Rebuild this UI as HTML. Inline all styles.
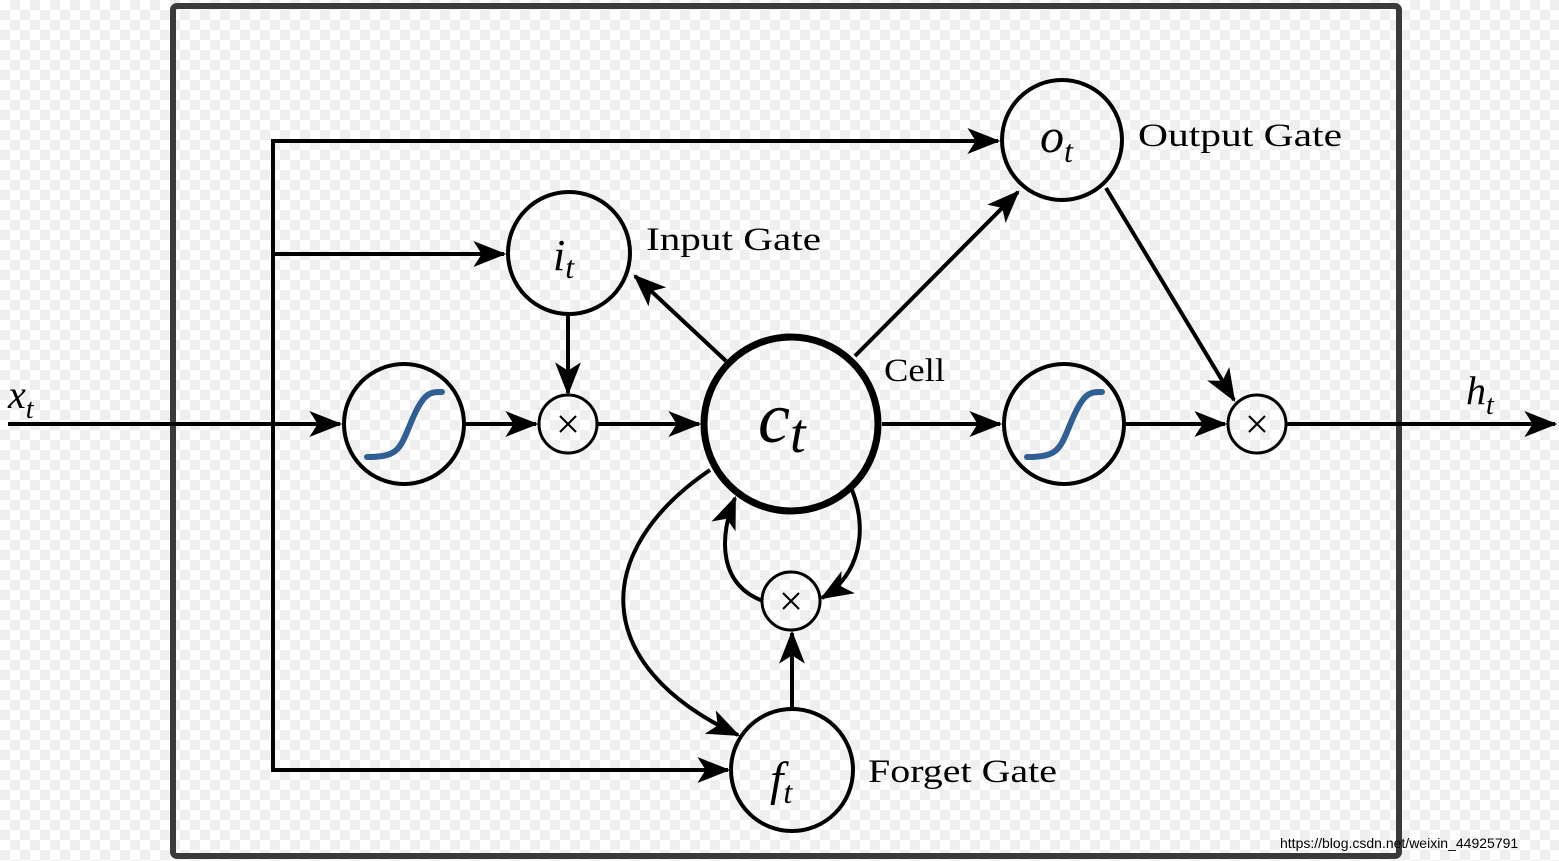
<!DOCTYPE html>
<html><head><meta charset="utf-8"><style>
html,body{margin:0;padding:0;}
body{width:1559px;height:861px;overflow:hidden;background-color:#fff;
background-image:linear-gradient(45deg,#efefef 25%,transparent 25%,transparent 75%,#efefef 75%),linear-gradient(45deg,#efefef 25%,transparent 25%,transparent 75%,#efefef 75%);
background-size:20px 20px;background-position:0 0,10px 10px;}
svg{position:absolute;left:0;top:0;}
text{font-family:"Liberation Serif",serif;fill:#000;}
</style></head><body>
<svg width="1559" height="861" viewBox="0 0 1559 861">
<defs>
<marker id="a" markerUnits="userSpaceOnUse" markerWidth="40" markerHeight="40" viewBox="-30 -15 34 30" refX="0" refY="0" orient="auto">
<path d="M2,0 L-26,-11 L-19,0 L-26,11 z" fill="#000"/>
</marker>
</defs>
<rect x="173" y="6" width="1226" height="850" rx="4" fill="none" stroke="#3a3a3a" stroke-width="6"/>
<g stroke="#000" stroke-width="4" fill="none">
<line x1="8" y1="424" x2="340" y2="424" marker-end="url(#a)"/>
<line x1="273" y1="139" x2="273" y2="772"/>
<line x1="271" y1="141" x2="998" y2="141" marker-end="url(#a)"/>
<line x1="271" y1="254" x2="504" y2="254" marker-end="url(#a)"/>
<line x1="271" y1="770" x2="728" y2="770" marker-end="url(#a)"/>
<line x1="466" y1="424" x2="536" y2="424" marker-end="url(#a)"/>
<line x1="598" y1="424" x2="699" y2="424" marker-end="url(#a)"/>
<line x1="882" y1="424" x2="1000" y2="424" marker-end="url(#a)"/>
<line x1="1126" y1="424" x2="1225" y2="424" marker-end="url(#a)"/>
<line x1="1287" y1="424" x2="1555" y2="424" marker-end="url(#a)"/>
<line x1="568" y1="315" x2="568" y2="393" marker-end="url(#a)"/>
<line x1="726" y1="361" x2="635" y2="276" marker-end="url(#a)"/>
<line x1="855" y1="356" x2="1018" y2="192" marker-end="url(#a)"/>
<line x1="1106" y1="188" x2="1234" y2="400" marker-end="url(#a)"/>
<line x1="792" y1="708" x2="792" y2="633" marker-end="url(#a)"/>
<path d="M710,470 C592,550 588,665 738,735" marker-end="url(#a)"/>
<path d="M763,601 C720,585 718,540 735,498" marker-end="url(#a)"/>
<path d="M852,490 C868,530 860,575 822,598" marker-end="url(#a)"/>
<circle cx="404" cy="424" r="60"/>
<circle cx="1064" cy="424" r="60"/>
<circle cx="569" cy="253" r="61"/>
<circle cx="1062" cy="140" r="60"/>
<circle cx="792" cy="770" r="61"/>
<circle cx="568" cy="424" r="29" stroke-width="3"/>
<circle cx="1257" cy="424" r="29" stroke-width="3"/>
<circle cx="791" cy="601" r="29" stroke-width="3"/>
<circle cx="791" cy="424" r="87" stroke-width="7"/>
</g>
<g stroke="#2f5f93" stroke-width="6" fill="none" stroke-linecap="round">
<path d="M367,457 C400,457 400,448 412,420 C424,392 430,392 442,392"/>
<path d="M1027,457 C1060,457 1060,448 1072,420 C1084,392 1090,392 1102,392"/>
</g>
<g stroke="#000" stroke-width="2">
<line x1="560" y1="416" x2="576" y2="432"/><line x1="576" y1="416" x2="560" y2="432"/>
<line x1="1249" y1="416" x2="1265" y2="432"/><line x1="1265" y1="416" x2="1249" y2="432"/>
<line x1="783" y1="593" x2="799" y2="609"/><line x1="799" y1="593" x2="783" y2="609"/>
</g>
<text x="8" y="408" font-size="40" font-style="italic">x<tspan font-size="28" dy="10">t</tspan></text>
<text x="1466" y="404" font-size="40" font-style="italic">h<tspan font-size="28" dy="10">t</tspan></text>
<text x="553" y="270" font-size="44" font-style="italic">i<tspan font-size="32" dy="8">t</tspan></text>
<text x="1040" y="152" font-size="48" font-style="italic">o<tspan font-size="32" dy="10">t</tspan></text>
<text x="770" y="795" font-size="48" font-style="italic">f<tspan font-size="32" dy="8">t</tspan></text>
<text x="758" y="442" font-size="72" font-style="italic">c<tspan font-size="56" dy="10">t</tspan></text>
<text x="646" y="250" font-size="33" textLength="175" lengthAdjust="spacingAndGlyphs">Input Gate</text>
<text x="1138" y="146" font-size="33" textLength="204" lengthAdjust="spacingAndGlyphs">Output Gate</text>
<text x="884" y="381" font-size="33" textLength="61" lengthAdjust="spacingAndGlyphs">Cell</text>
<text x="868" y="782" font-size="33" textLength="189" lengthAdjust="spacingAndGlyphs">Forget Gate</text>
<text x="1280" y="848" font-size="14" style="font-family:'Liberation Sans',sans-serif" fill="#ccc">https://blog.csdn.net/weixin_44925791</text>
</svg>
</body></html>
